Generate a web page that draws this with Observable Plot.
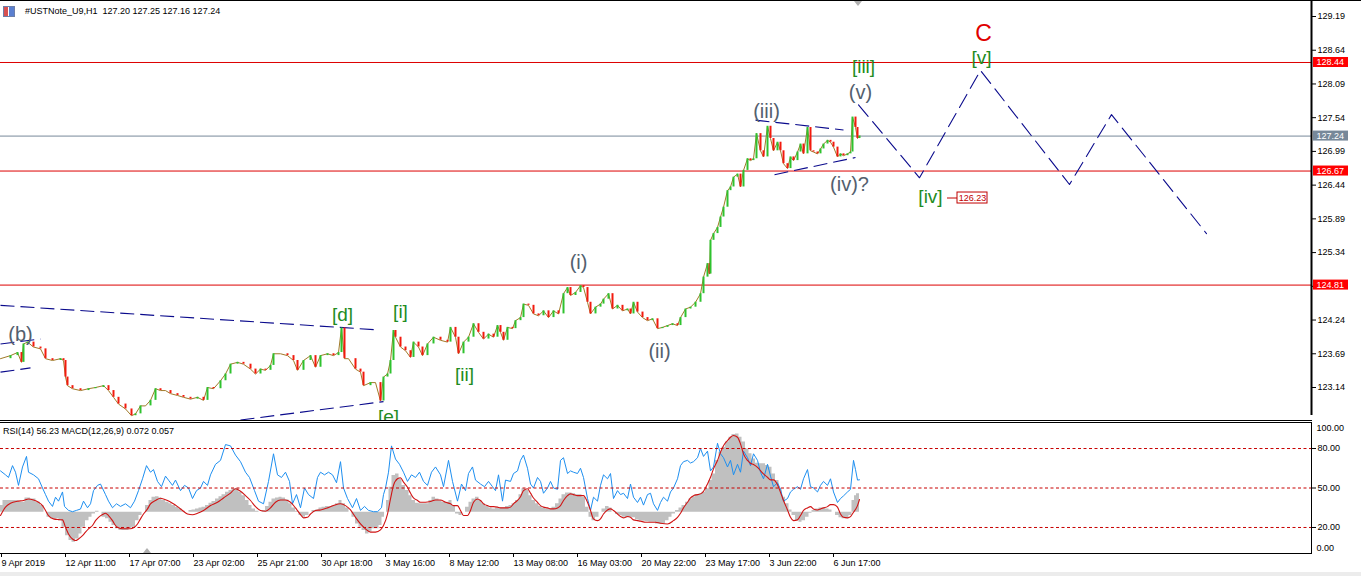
<!DOCTYPE html>
<html><head><meta charset="utf-8">
<script src="https://cdn.jsdelivr.net/npm/d3@7"></script>
<script src="https://cdn.jsdelivr.net/npm/@observablehq/plot@0.6"></script>
<style>
body{margin:0;background:#fff;}
#wrap{position:relative;width:1361px;height:576px;overflow:hidden;background:#fff;font-family:"Liberation Sans",Arial,sans-serif;}
#wrap svg{position:absolute;left:0;}
.ln{position:absolute;background:#000;}
.txt{position:absolute;font-size:9px;color:#000;white-space:pre;line-height:10px;}
</style></head><body><div id="wrap"></div>
<script>
// ---------- DATA ----------
const symbolTitle = "#USTNote_U9,H1  127.20 127.25 127.16 127.24";
const indTitle = "RSI(14) 56.23 MACD(12,26,9) 0.072 0.057";

const xTickBars = [-1, 63, 127, 191, 255, 319, 383, 447, 511, 575, 639, 703, 767, 831];
const xTickLabels = ["9 Apr 2019","12 Apr 11:00","17 Apr 07:00","23 Apr 02:00","25 Apr 21:00","30 Apr 18:00","3 May 16:00","8 May 12:00","13 May 08:00","16 May 03:00","20 May 22:00","23 May 17:00","3 Jun 22:00","6 Jun 17:00"];
const yTicks = [129.19,128.64,128.09,127.54,126.99,126.44,125.89,125.34,124.79,124.24,123.69,123.14];
const levelPrices = [128.44, 126.67, 124.81];
const currentPrice = 127.24;
const rsiLevels = [20, 50, 80];

const priceBar = [0,10,17,21,23,27,33,40,45,52,60,63,65,67,72,80,88,95,103,108,113,118,125,131,135,140,145,150,155,160,165,170,177,183,190,197,203,207,213,220,225,230,237,243,250,255,260,265,270,273,280,287,293,297,303,310,315,320,327,333,338,341,344,348,355,360,363,370,375,380,383,387,390,393,395,400,405,410,413,418,422,427,433,440,447,450,455,458,463,468,473,478,483,488,493,497,500,503,507,512,515,520,523,528,533,538,543,548,553,558,563,567,570,575,580,583,587,590,595,600,603,608,612,617,622,627,630,633,637,642,647,652,657,662,667,672,677,680,685,690,695,700,703,707,709,710,713,717,720,723,727,730,733,737,740,743,747,750,753,756,760,763,767,770,773,777,780,783,787,790,793,797,800,803,807,810,813,817,820,823,827,830,833,837,840,843,847,850,852,855,857,859];
const priceClose = [123.61,123.66,123.71,123.55,123.85,123.88,123.80,123.77,123.61,123.58,123.61,123.58,123.31,123.17,123.12,123.09,123.12,123.14,123.17,123.09,122.98,122.87,122.79,122.68,122.71,122.84,122.84,122.93,123.12,123.09,123.09,123.04,123.01,122.98,122.95,122.98,122.93,123.14,123.12,123.25,123.36,123.52,123.55,123.52,123.44,123.36,123.44,123.42,123.50,123.69,123.69,123.66,123.58,123.42,123.58,123.66,123.47,123.66,123.69,123.66,123.71,124.11,123.61,123.61,123.44,123.39,123.17,123.22,123.22,122.92,123.31,123.36,123.58,124.07,123.96,123.80,123.74,123.63,123.88,123.80,123.66,123.85,123.96,123.91,123.88,124.12,123.96,123.69,123.88,123.96,124.18,124.04,123.93,124.01,123.96,124.15,124.04,123.91,124.12,124.10,124.23,124.28,124.50,124.48,124.34,124.31,124.39,124.28,124.39,124.34,124.67,124.77,124.64,124.69,124.80,124.77,124.53,124.34,124.45,124.50,124.58,124.67,124.42,124.48,124.39,124.42,124.34,124.53,124.37,124.28,124.23,124.26,124.10,124.12,124.15,124.18,124.15,124.28,124.42,124.45,124.53,124.67,124.94,125.16,124.99,125.54,125.65,125.75,125.92,126.08,126.35,126.41,126.57,126.62,126.41,126.68,126.87,126.84,126.87,127.28,127.00,126.90,127.40,127.20,127.00,127.14,127.00,126.79,126.71,126.90,126.84,126.98,127.11,126.95,127.38,127.00,126.98,126.95,127.03,127.11,127.17,127.14,127.06,126.90,126.95,126.92,126.95,126.98,127.55,127.38,127.20,127.24];

const rsiBar = [0,5,8,12,15,18,22,26,28,33,38,42,45,48,52,55,58,62,64,68,72,76,80,83,87,90,93,97,100,105,108,112,116,120,125,130,134,138,142,146,150,153,157,161,165,168,172,175,180,184,188,192,196,200,203,207,210,215,220,225,230,235,240,245,249,254,258,263,268,273,277,281,285,289,292,296,300,304,308,313,317,320,324,328,332,336,340,343,347,352,356,360,364,368,373,377,381,383,385,388,391,395,399,403,407,411,415,419,423,427,431,435,440,443,448,452,457,461,465,468,472,475,480,484,488,492,495,498,502,505,510,513,517,520,523,527,530,533,537,540,543,547,550,553,557,560,563,567,570,573,577,580,583,587,590,593,597,600,603,607,610,613,617,620,623,627,630,633,637,640,643,647,650,653,657,660,663,667,670,673,677,680,683,687,690,693,697,700,703,707,710,713,717,720,723,727,730,733,737,740,743,747,750,753,757,760,763,767,770,773,777,780,783,787,790,793,797,800,803,807,810,813,817,820,823,827,830,833,837,840,843,847,850,853,855,857,859];
const rsiVal = [63,60,58,67,62,52,66,74,62,60,57,50,45,40,36,43,40,47,36,33,32,33,34,40,35,38,48,52,53,45,40,35,38,36,38,35,40,48,57,67,62,64,55,51,59,56,52,56,48,52,50,42,48,50,55,52,60,68,71,83,82,75,70,62,58,48,40,38,55,76,60,58,62,55,38,45,35,50,45,42,58,62,60,62,60,54,70,50,42,35,42,33,36,33,32,32,35,45,50,62,82,72,68,62,55,60,58,62,55,52,62,66,60,51,71,55,40,53,48,61,66,56,53,51,55,51,48,60,40,56,55,61,63,71,75,65,53,50,58,55,46,50,55,50,49,71,73,61,63,62,61,65,58,42,33,43,40,52,60,57,61,42,48,45,46,42,53,43,39,43,37,45,46,38,33,39,43,40,47,50,57,67,70,71,69,70,73,80,74,78,63,66,84,76,73,66,71,60,68,62,78,73,67,76,71,62,57,68,59,51,54,49,40,42,47,49,51,49,57,64,51,50,47,52,55,52,57,47,39,42,44,47,49,71,64,56,56.23];

const histBar = [0,5,10,15,22,27,33,38,42,45,48,52,57,60,63,67,70,73,77,80,83,87,90,93,97,100,103,107,110,113,117,120,123,127,130,133,137,140,143,147,150,153,157,160,163,167,170,173,177,180,183,187,190,193,197,200,203,207,210,213,217,220,223,227,230,233,237,240,243,247,250,253,257,260,263,267,270,273,277,280,283,287,290,293,297,300,303,307,310,313,317,320,323,327,330,333,337,340,343,347,350,353,357,360,363,367,370,373,377,380,383,385,387,390,393,397,400,403,407,410,413,417,420,423,427,430,433,437,440,443,447,450,453,457,460,463,467,470,473,477,480,483,487,490,493,497,500,503,507,510,513,517,520,523,527,530,533,537,540,543,547,550,553,557,560,563,567,570,573,577,580,583,587,590,593,597,600,603,607,610,613,617,620,623,627,630,633,637,640,643,647,650,653,657,660,663,667,670,673,677,680,683,687,690,693,697,700,703,707,710,713,717,720,723,727,730,733,737,740,743,747,750,753,757,760,763,767,770,773,777,780,783,787,790,793,797,800,803,807,810,813,817,820,823,827,830,833,837,840,843,847,850,853,855,857,859];
const histVal = [0.026,0.046,0.046,0.046,0.039,0.056,0.052,0.039,0.026,0,-0.020,-0.026,-0.026,-0.033,-0.059,-0.092,-0.111,-0.118,-0.105,-0.085,-0.059,-0.033,-0.020,-0.007,0.004,0,-0.020,-0.026,-0.039,-0.052,-0.065,-0.072,-0.072,-0.072,-0.065,-0.059,-0.033,-0.013,0,0.026,0.046,0.059,0.061,0.056,0.046,0.039,0.033,0.026,0.020,0.013,0.004,0,0.007,0.009,0.013,0.017,0.020,0.026,0.035,0.042,0.052,0.061,0.069,0.078,0.085,0.092,0.092,0.078,0.065,0.046,0.026,0.013,0.004,0,0.007,0.022,0.039,0.052,0.056,0.059,0.056,0.048,0.033,0.017,0.004,-0.013,-0.020,-0.013,0,0.007,0.009,0.017,0.020,0.022,0.022,0.026,0.033,0.046,0.033,0.017,0,-0.020,-0.046,-0.059,-0.072,-0.085,-0.078,-0.065,-0.065,-0.052,-0.020,0,0.046,0.098,0.144,0.150,0.131,0.105,0.085,0.065,0.046,0.035,0.033,0.033,0.033,0.046,0.059,0.052,0.046,0.039,0.039,0.046,0.026,-0.007,-0.013,0,0.020,0.039,0.052,0.059,0.046,0.033,0.022,0.017,0.013,0.017,0.017,0.017,0.022,0.026,0.033,0.046,0.069,0.092,0.085,0.065,0.046,0.033,0.022,0.017,0.013,0.013,0.020,0.033,0.052,0.069,0.075,0.075,0.072,0.069,0.069,0.059,0.020,-0.020,-0.033,-0.020,0,0.013,0.022,0.017,0,-0.009,-0.013,-0.020,-0.022,-0.020,-0.022,-0.030,-0.033,-0.035,-0.037,-0.039,-0.039,-0.046,-0.048,-0.046,-0.033,-0.020,-0.007,0.007,0.017,0.026,0.039,0.052,0.061,0.069,0.072,0.078,0.092,0.124,0.150,0.203,0.235,0.255,0.275,0.294,0.305,0.307,0.294,0.275,0.248,0.229,0.209,0.192,0.190,0.190,0.183,0.176,0.150,0.124,0.092,0.059,0.033,0.009,-0.013,-0.033,-0.039,-0.033,-0.020,-0.004,0.007,0.013,0.017,0.017,0.013,0.009,0,-0.013,-0.022,-0.026,-0.026,-0.013,0.046,0.065,0.072,0.072];

const sigBar = [0,5,10,17,23,28,33,38,42,45,48,53,58,62,65,68,72,75,78,82,85,88,92,95,98,102,105,108,112,115,118,122,127,130,133,137,140,143,147,150,155,160,163,167,172,177,182,187,192,197,203,210,217,223,230,235,240,245,250,255,260,265,270,275,280,285,290,295,300,303,307,310,315,320,327,333,340,345,350,355,360,365,370,375,380,383,387,390,393,397,400,403,407,410,413,417,420,425,430,435,440,445,450,453,457,460,463,467,470,473,477,480,483,487,490,493,497,500,503,507,510,513,517,520,523,527,530,533,537,540,543,547,550,553,557,560,563,567,570,573,577,580,583,587,590,593,597,600,603,607,610,613,617,620,623,627,630,633,637,640,645,650,655,660,667,673,677,680,683,687,690,693,697,700,703,707,710,713,717,720,723,727,730,733,737,740,743,747,750,753,757,760,763,767,770,773,777,780,783,787,790,793,797,800,803,807,810,813,817,820,823,827,830,833,837,840,843,847,850,853,857,859];
const sigVal = [-0.013,0.020,0.035,0.043,0.046,0.052,0.048,0.039,0.026,0.007,-0.013,-0.026,-0.029,-0.030,-0.059,-0.085,-0.105,-0.111,-0.105,-0.092,-0.078,-0.065,-0.052,-0.033,-0.020,-0.009,-0.004,-0.013,-0.033,-0.052,-0.061,-0.065,-0.065,-0.065,-0.061,-0.046,-0.026,-0.007,0.013,0.033,0.046,0.055,0.052,0.046,0.035,0.022,0.007,-0.007,-0.010,-0.004,0.007,0.026,0.039,0.056,0.075,0.092,0.082,0.065,0.046,0.022,0.007,0.004,0.017,0.039,0.048,0.048,0.039,0.017,-0.009,-0.022,-0.020,-0.007,0.007,0.009,0.017,0.026,0.033,0.026,0.009,-0.020,-0.046,-0.065,-0.078,-0.078,-0.069,-0.052,-0.007,0.052,0.105,0.131,0.135,0.118,0.098,0.075,0.056,0.046,0.039,0.039,0.042,0.048,0.048,0.039,0.033,0.026,0.026,0.007,-0.013,-0.013,0.007,0.039,0.052,0.046,0.033,0.026,0.022,0.022,0.020,0.017,0.017,0.017,0.020,0.033,0.046,0.061,0.085,0.092,0.075,0.056,0.039,0.026,0.020,0.017,0.013,0.013,0.017,0.026,0.046,0.065,0.072,0.069,0.065,0.065,0.065,0.039,0.007,-0.026,-0.033,-0.026,-0.007,0.009,0.013,0.007,-0.007,-0.017,-0.022,-0.017,-0.020,-0.030,-0.033,-0.035,-0.039,-0.039,-0.039,-0.043,-0.046,-0.033,-0.020,-0.004,0.017,0.039,0.056,0.065,0.069,0.072,0.082,0.111,0.137,0.170,0.203,0.235,0.261,0.281,0.294,0.301,0.294,0.268,0.229,0.203,0.192,0.187,0.176,0.163,0.150,0.137,0.127,0.127,0.108,0.078,0.046,0.009,-0.020,-0.033,-0.030,-0.013,0.007,0.017,0.022,0.013,0.009,0.013,0.017,0.022,0.030,0.030,0.020,-0.007,-0.020,-0.022,-0.017,0,0.026,0.05];

// Dashed trend lines (start bar/price, end bar/price)
const trendBar1 = [0, 0, 0, 240, 755, 774];
const trendPrice1 = [124.48, 123.85, 123.39, 122.61, 127.50, 126.61];
const trendBar2 = [377, 40, 30, 383, 843, 855];
const trendPrice2 = [124.08, 123.93, 123.46, 122.91, 127.34, 126.89];

// Projected path
const projBar = [858, 919, 980, 1069, 1111, 1206];
const projPrice = [127.75, 126.56, 128.31, 126.45, 127.59, 125.65];

// Wave labels
const waveText = ["(b)","[d]","[e]","[i]","[ii]","(i)","(ii)","(iii)","(iv)?","(v)","[iii]","[iv]","[v]","C"];
const waveBar = [20, 342, 388, 400, 464, 578, 659, 766, 849, 860, 863, 930, 981, 983];
const wavePrice = [124.00, 124.33, 122.66, 124.38, 123.35, 125.18, 123.73, 127.64, 126.45, 127.95, 128.36, 126.24, 128.52, 128.91];

// Price tag
const tagPrice = 126.23;
const tagBar = [947, 957, 987];

// ---------- BUILD ----------
const W = 1361, AX = 1311;
const FONT = "Liberation Sans, Arial, sans-serif";
const wrap = document.getElementById("wrap");
const xScale = {domain: [-1, AX], range: [-1, AX], axis: null};

const candles = priceBar.map((b, i) => ({bar: b, open: i ? priceClose[i - 1] : priceClose[0], close: priceClose[i]}));
const trends = trendBar1.map((b, i) => ({b1: b, p1: trendPrice1[i], b2: trendBar2[i], p2: trendPrice2[i]}));
const proj = projBar.map((b, i) => ({bar: b, price: projPrice[i]}));
const waves = waveText.map((t, i) => ({t, bar: waveBar[i], price: wavePrice[i]}));
const gray = waves.filter(d => d.t.startsWith("("));
const green = waves.filter(d => d.t.startsWith("["));
const red = waves.filter(d => !d.t.startsWith("(") && !d.t.startsWith("["));
const UP = "#2fc22f", DOWN = "#f21a0e", NAVY = "#0a0a8c";

const main = Plot.plot({
  width: W, height: 421, marginTop: 1, marginBottom: 1, marginLeft: 0, marginRight: W - AX,
  x: xScale,
  y: {domain: [123.14, 129.19], range: [387, 16], axis: null},
  style: {fontFamily: FONT, fontSize: "9px", background: "transparent", overflow: "visible"},
  marks: [
    Plot.ruleY(levelPrices, {x1: 0, x2: AX, stroke: "#dd0000", strokeWidth: 1}),
    Plot.ruleY([currentPrice], {x1: 0, x2: AX, stroke: "#778899", strokeWidth: 1}),
    Plot.link(trends, {x1: "b1", y1: "p1", x2: "b2", y2: "p2", stroke: NAVY, strokeWidth: 1.1, strokeDasharray: "14,6", clip: true}),
    Plot.line(candles, {x: "bar", y: "close", stroke: "#a07a28", strokeWidth: 1, clip: true}),
    Plot.ruleX(candles, {x: "bar", y1: "open", y2: "close", stroke: d => d.close >= d.open ? UP : DOWN, strokeWidth: 2, clip: true}),
    Plot.line(proj, {x: "bar", y: "price", stroke: NAVY, strokeWidth: 1.1, strokeDasharray: "15,7"}),
    Plot.text(gray, {x: "bar", y: "price", text: "t", fill: "#53606e", fontSize: 20, fontFamily: FONT, clip: true}),
    Plot.text(green, {x: "bar", y: "price", text: "t", fill: "#228b22", fontSize: 19, fontFamily: FONT, clip: true}),
    Plot.text(red, {x: "bar", y: "price", text: "t", fill: "#e00000", fontSize: 23, fontFamily: FONT}),
    Plot.ruleY([tagPrice], {x1: tagBar[0], x2: tagBar[1], stroke: "#c00000"}),
    Plot.rect([tagPrice], {x1: tagBar[1], x2: tagBar[2], y1: d => d, y2: d => d, insetTop: -5.5, insetBottom: -5.5, fill: "white", stroke: "#c00000"}),
    Plot.text([tagPrice], {x: (tagBar[1] + tagBar[2]) / 2, y: d => d, text: d => d.toFixed(2), fill: "#c00000", fontSize: 9, fontFamily: FONT}),
    Plot.ruleX([AX], {stroke: "#000", strokeWidth: 2, insetBottom: 5}),
    Plot.axisY({anchor: "right", label: null, ticks: yTicks, tickSize: 4, tickPadding: 2, tickFormat: d => d.toFixed(2), fontSize: 9}),
    Plot.rect(levelPrices, {x1: AX + 2, x2: AX + 37, y1: d => d, y2: d => d, insetTop: -5, insetBottom: -5, fill: "#ff0000"}),
    Plot.rect([currentPrice], {x1: AX + 2, x2: AX + 37, y1: d => d, y2: d => d, insetTop: -5, insetBottom: -5, fill: "#778899"}),
    Plot.text(levelPrices.concat([currentPrice]), {x: AX + 5, y: d => d, text: d => d.toFixed(2), textAnchor: "start", fill: "white", fontSize: 9, fontFamily: FONT})
  ]
});
main.style.top = "0px";
wrap.appendChild(main);

const indY = [133.3, 1.7];
const histData = histBar.map((b, i) => ({bar: b, m: histVal[i]}));
const sigData = sigBar.map((b, i) => ({bar: b, m: sigVal[i]}));
const rsiData = rsiBar.map((b, i) => ({bar: b, r: rsiVal[i]}));
const macdDomain = [-0.163, 0.353];
const common = {width: W, height: 156, marginTop: 0, marginBottom: 23, marginLeft: 0, marginRight: W - AX,
  x: xScale, style: {fontFamily: FONT, fontSize: "9px", background: "transparent", overflow: "visible"}};

const histPlot = Plot.plot({...common,
  y: {domain: macdDomain, range: indY, axis: null},
  marks: [Plot.areaY(histData, {x: "bar", y1: 0, y2: "m", fill: "#c0c0c0", curve: "step"})]
});
histPlot.style.top = "420px";
wrap.appendChild(histPlot);

const labelByBar = new Map(xTickBars.map((b, i) => [b, xTickLabels[i]]));
const rsiPlot = Plot.plot({...common,
  y: {domain: [0, 100], range: indY, axis: null},
  marks: [
    Plot.line(rsiData, {x: "bar", y: "r", stroke: "#1e8ff0", strokeWidth: 1}),
    Plot.ruleY(rsiLevels, {x1: 0, x2: AX, stroke: "#c80000", strokeDasharray: "3,2.5"}),
    Plot.axisY({anchor: "right", label: null, ticks: rsiLevels, tickSize: 4, tickPadding: 2, tickFormat: d => d.toFixed(2), fontSize: 9}),
    Plot.text([100], {x: AX + 5, y: d => d, text: d => d.toFixed(2), textAnchor: "start", dy: 5.6, fontSize: 9, fontFamily: FONT}),
    Plot.text([0], {x: AX + 5, y: d => d, text: d => d.toFixed(2), textAnchor: "start", dy: -6, fontSize: 9, fontFamily: FONT}),
    Plot.axisX({label: null, ticks: xTickBars, tickSize: 4, tickPadding: 2, tickFormat: d => labelByBar.get(d), textAnchor: "start", dx: 2, fontSize: 9})
  ]
});
rsiPlot.style.top = "420px";
wrap.appendChild(rsiPlot);

const sigPlot = Plot.plot({...common,
  y: {domain: macdDomain, range: indY, axis: null},
  marks: [Plot.line(sigData, {x: "bar", y: "m", stroke: "#d01414", strokeWidth: 1.1, curve: "monotone-x"})]
});
sigPlot.style.top = "420px";
wrap.appendChild(sigPlot);

// ---------- chrome ----------
function ln(l, t, w, h, c) { const d = document.createElement("div"); d.className = "ln"; Object.assign(d.style, {left: l + "px", top: t + "px", width: w + "px", height: h + "px"}); if (c) d.style.background = c; wrap.appendChild(d); }
ln(0, 0, W, 1);
ln(0, 420, AX + 1, 1);
ln(0, 422, AX + 1, 1);
ln(AX, 422, 1, 131);
ln(0, 553, AX + 1, 1);
ln(0, 572, W, 4, "#ececec");
function txt(s, l, t) { const d = document.createElement("div"); d.className = "txt"; d.textContent = s; d.style.left = l + "px"; d.style.top = t + "px"; wrap.appendChild(d); }
txt(symbolTitle, 25, 6);
txt(indTitle, 3, 426);
// window icon
const ic = document.createElement("div");
Object.assign(ic.style, {position: "absolute", left: "3px", top: "6px", width: "10px", height: "9px", border: "1px solid #6d7fa8", background: "linear-gradient(90deg,#d85050 0 45%,#fff 45% 55%,#5a7fd0 55%)"});
wrap.appendChild(ic);
// shift markers
const tri1 = document.createElement("div");
Object.assign(tri1.style, {position: "absolute", left: "854px", top: "1px", width: 0, height: 0, borderLeft: "4px solid transparent", borderRight: "4px solid transparent", borderTop: "5px solid #b0b0b0"});
wrap.appendChild(tri1);
const tri2 = document.createElement("div");
Object.assign(tri2.style, {position: "absolute", left: "143px", top: "548px", width: 0, height: 0, borderLeft: "4px solid transparent", borderRight: "4px solid transparent", borderBottom: "5px solid #b0b0b0"});
wrap.appendChild(tri2);
</script></body></html>
